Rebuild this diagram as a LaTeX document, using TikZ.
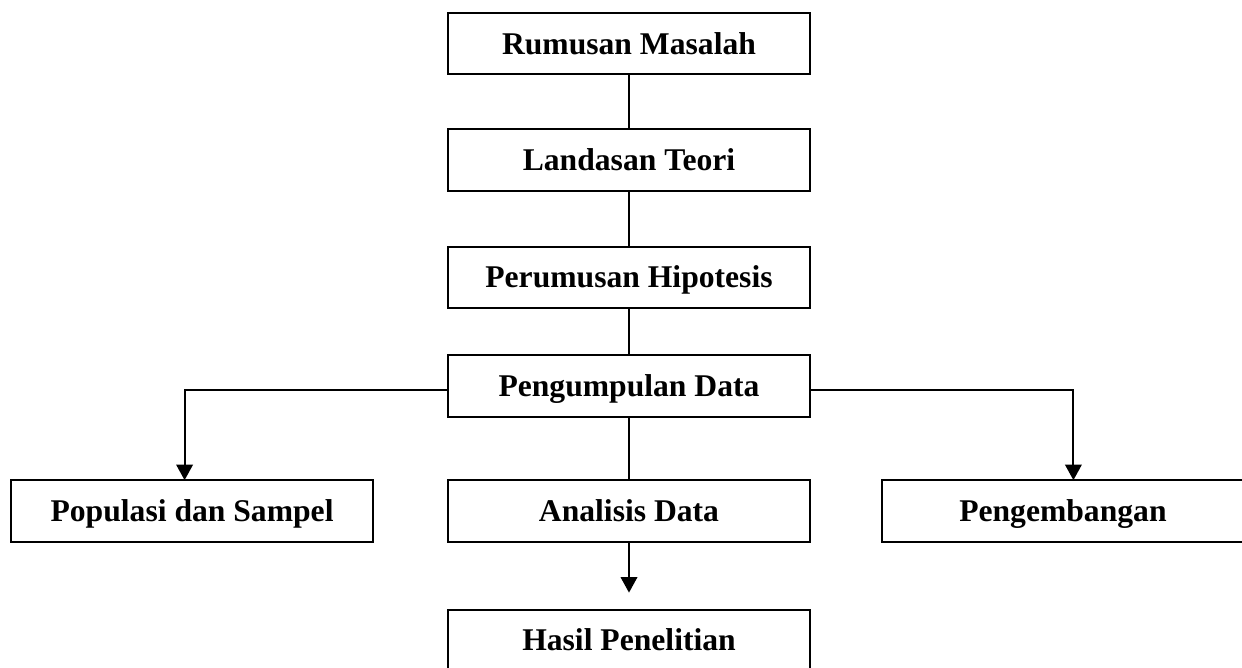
\documentclass[tikz,border=0pt]{standalone}
\usepackage{fontspec}
\setmainfont{Liberation Serif}
\usepackage{tikz}
\usetikzlibrary{arrows.meta,positioning}
\tikzset{
    box/.style={rectangle, draw=black, line width=1.1pt, fill=white,
        minimum width=7.24cm, minimum height=1.23cm, inner sep=0pt, outer sep=0pt,
        text height=12pt, text depth=0pt,
        align=center, font=\fontsize{18}{22}\selectfont\bfseries},
    link/.style={line width=1.1pt, draw=black},
    flow/.style={-{Triangle[length=3.1mm,width=3.3mm]}, line width=1.1pt, draw=black}
}

\begin{document}
\begin{tikzpicture}[x=0.02cm,y=-0.02cm]
        \useasboundingbox (0,0) rectangle (1242,668);
        \node[box] (rumusan) at (629,43.5) {Rumusan Masalah};
        \node[box,below=1.1cm of rumusan] (landasan) {Landasan Teori};
        \node[box,below=1.12cm of landasan] (hipotesis) {Perumusan Hipotesis};
        \node[box,below=0.94cm of hipotesis] (kumpul) {Pengumpulan Data};
        \node[box,below=1.27cm of kumpul] (analisis) {Analisis Data};
        \node[box,left=1.5cm of analisis] (populasi) {Populasi dan Sampel};
        \node[box,right=1.44cm of analisis] (kembang) {Pengembangan};
        \node[box,below=1.36cm of analisis] (hasil) {Hasil Penelitian};
        \coordinate[below=1.02cm of analisis] (ujung);
        \draw[link] (rumusan) -- (landasan);
        \draw[link] (landasan) -- (hipotesis);
        \draw[link] (hipotesis) -- (kumpul);
        \draw[link] (kumpul) -- (analisis);
        \draw[flow] ([yshift=-0.08cm]kumpul.west) -| ([xshift=-0.15cm]populasi.north);
        \draw[flow] ([yshift=-0.08cm]kumpul.east) -| ([xshift=0.21cm]kembang.north);
        \draw[flow] (analisis.south) -- (ujung);
    \end{tikzpicture}
\end{document}
